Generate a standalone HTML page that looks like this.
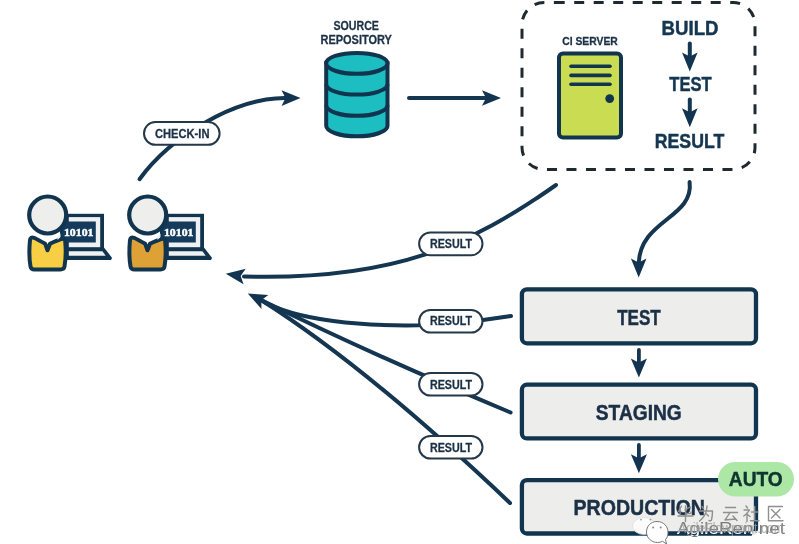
<!DOCTYPE html>
<html><head><meta charset="utf-8">
<style>
html,body{margin:0;padding:0;background:#fff;width:799px;height:544px;overflow:hidden}
svg{display:block;will-change:transform;filter:blur(0.3px)}
text{font-family:"Liberation Sans",sans-serif;font-weight:bold}
</style></head>
<body>
<svg width="799" height="544" viewBox="0 0 799 544">
<defs>
  <path id="ah" d="M0,0 L-19,-7.8 L-15,0 L-19,7.8 Z" fill="#123450"/>
</defs>

<!-- SOURCE REPOSITORY -->
<text x="356.2" y="30" font-size="13" fill="#1b3046" stroke="#1b3046" stroke-width="0.3" text-anchor="middle" textLength="45.5" lengthAdjust="spacingAndGlyphs">SOURCE</text>
<text x="356.2" y="44.3" font-size="13" fill="#1b3046" stroke="#1b3046" stroke-width="0.3" text-anchor="middle" textLength="71.5" lengthAdjust="spacingAndGlyphs">REPOSITORY</text>

<!-- Database -->
<g stroke="#12354f" stroke-width="4" fill="#1cbec2">
  <path d="M326.2,63.35 L326.2,125.85 A30.65,10.45 0 0 0 387.5,125.85 L387.5,63.35 Z"/>
  <ellipse cx="356.85" cy="63.35" rx="30.65" ry="10.45"/>
  <path d="M326.2,84.15 A30.65,10.45 0 0 0 387.5,84.15" fill="none"/>
  <path d="M326.2,105.35 A30.65,10.45 0 0 0 387.5,105.35" fill="none"/>
</g>

<!-- arrow repo -> CI -->
<line x1="409" y1="98" x2="488" y2="98" stroke="#143651" stroke-width="4" stroke-linecap="round"/>
<use href="#ah" transform="translate(501,98)"/>

<!-- CHECK-IN arc -->
<path d="M139.5,179.2 C170.8,136.2 235,98 285,98.1" fill="none" stroke="#143651" stroke-width="4" stroke-linecap="round"/>
<use href="#ah" transform="translate(300.5,98.1)"/>
<rect x="144" y="122" width="75.6" height="22.8" rx="11.4" fill="#fff" stroke="#24384a" stroke-width="2"/>
<text x="182.2" y="138" font-size="13" fill="#1b3046" stroke="#1b3046" stroke-width="0.3" text-anchor="middle" textLength="54.5" lengthAdjust="spacingAndGlyphs">CHECK-IN</text>

<!-- Dashed CI box -->
<path d="M554.7,2.5 H733 A22,22 0 0 1 755,24.5 V147.5 A22,22 0 0 1 733,169.5 H544 A22,22 0 0 1 522,147.5 V24.5 A22,22 0 0 1 544,2.5 Z" fill="none" stroke="#1f2a30" stroke-width="3" stroke-dasharray="10 9.5"/>

<text x="590" y="44.5" font-size="11.6" fill="#1b3046" stroke="#1b3046" stroke-width="0.3" text-anchor="middle" textLength="55.5" lengthAdjust="spacingAndGlyphs">CI SERVER</text>
<!-- server -->
<rect x="559" y="53.5" width="62" height="84" rx="4" fill="#cadd52" stroke="#12354f" stroke-width="4"/>
<g stroke="#12354f" stroke-width="3.6" stroke-linecap="round">
  <line x1="571" y1="66.3" x2="610" y2="66.3"/>
  <line x1="571" y1="75.4" x2="610" y2="75.4"/>
  <line x1="571" y1="84.3" x2="610" y2="84.3"/>
</g>
<circle cx="609.7" cy="98.6" r="4.4" fill="#12354f"/>

<text x="690" y="35.2" font-size="19.5" fill="#143651" stroke="#143651" stroke-width="0.45" text-anchor="middle" textLength="57" lengthAdjust="spacingAndGlyphs">BUILD</text>
<text x="690.5" y="91.1" font-size="19.5" fill="#143651" stroke="#143651" stroke-width="0.45" text-anchor="middle" textLength="42.5" lengthAdjust="spacingAndGlyphs">TEST</text>
<text x="689.5" y="147.5" font-size="19.5" fill="#143651" stroke="#143651" stroke-width="0.45" text-anchor="middle" textLength="69.5" lengthAdjust="spacingAndGlyphs">RESULT</text>
<line x1="689.8" y1="43.5" x2="689.8" y2="58" stroke="#143651" stroke-width="4" stroke-linecap="round"/>
<use href="#ah" transform="translate(689.8,71.4) rotate(90)"/>
<line x1="689.8" y1="99.5" x2="689.8" y2="114" stroke="#143651" stroke-width="4" stroke-linecap="round"/>
<use href="#ah" transform="translate(689.8,127.2) rotate(90)"/>

<!-- people -->
<g transform="translate(0,0)">
  <rect x="60" y="213.8" width="44" height="37.2" fill="#12354f"/>
  <rect x="68.8" y="217.1" width="31.4" height="30.3" fill="#eef0f2"/>
  <rect x="62" y="221.5" width="33.8" height="21" fill="#143a5c"/>
  <path d="M60,247.4 L104,247.4 L111.6,257.3 Q112.5,260.1 109.5,260.1 L60,260.1 Z" fill="#12354f"/>
  <path d="M68.8,251.3 L102.4,251.3 L105.7,255.8 L68.8,255.8 Z" fill="#eef0f2"/>
  <path d="M30,240 Q30.5,236.5 34,237.8 C38,239.8 42.5,242.3 45.2,243.8 L47.5,250.3 L50,243.8 C53,242 58,240.3 61.5,239 Q65.3,237.8 65.2,241.5 Q66.5,255 64.5,266.5 Q64,269.5 60.5,269.5 L34.5,269.5 Q31,269.5 30.5,266.5 Q28.5,255 30,240 Z" fill="#f8cf44" stroke="#12354f" stroke-width="4" stroke-linejoin="round"/>
  <circle cx="47.7" cy="215" r="18.5" fill="#eeefed" stroke="#12354f" stroke-width="4.2"/>
  <path d="M57.5,236.5 L60.5,233.5 L60.5,237 L57.5,240 Z" fill="#eef0f2"/>
  <text x="78.7" y="236.4" font-size="10.3" fill="#fff" stroke="#fff" stroke-width="0.45" text-anchor="middle" style="font-family:'Liberation Serif',serif" textLength="29.6" lengthAdjust="spacingAndGlyphs">10101</text>
</g>
<g transform="translate(100,0)">
  <rect x="60" y="213.8" width="44" height="37.2" fill="#12354f"/>
  <rect x="68.8" y="217.1" width="31.4" height="30.3" fill="#eef0f2"/>
  <rect x="62" y="221.5" width="33.8" height="21" fill="#143a5c"/>
  <path d="M60,247.4 L104,247.4 L111.6,257.3 Q112.5,260.1 109.5,260.1 L60,260.1 Z" fill="#12354f"/>
  <path d="M68.8,251.3 L102.4,251.3 L105.7,255.8 L68.8,255.8 Z" fill="#eef0f2"/>
  <path d="M30,240 Q30.5,236.5 34,237.8 C38,239.8 42.5,242.3 45.2,243.8 L47.5,250.3 L50,243.8 C53,242 58,240.3 61.5,239 Q65.3,237.8 65.2,241.5 Q66.5,255 64.5,266.5 Q64,269.5 60.5,269.5 L34.5,269.5 Q31,269.5 30.5,266.5 Q28.5,255 30,240 Z" fill="#dea136" stroke="#12354f" stroke-width="4" stroke-linejoin="round"/>
  <circle cx="47.7" cy="215" r="18.5" fill="#eeefed" stroke="#12354f" stroke-width="4.2"/>
  <path d="M57.5,236.5 L60.5,233.5 L60.5,237 L57.5,240 Z" fill="#eef0f2"/>
  <text x="78.7" y="236.4" font-size="10.3" fill="#fff" stroke="#fff" stroke-width="0.45" text-anchor="middle" style="font-family:'Liberation Serif',serif" textLength="29.6" lengthAdjust="spacingAndGlyphs">10101</text>
</g>
<!-- CI -> people result curve -->
<path d="M556,185 C471.4,244.5 394.1,280.8 244,276.5" fill="none" stroke="#143651" stroke-width="4" stroke-linecap="round"/>
<use href="#ah" transform="translate(225.8,273.8) rotate(188)"/>
<rect x="419.1" y="232.5" width="63.4" height="22.7" rx="11.35" fill="#fff" stroke="#24384a" stroke-width="2"/>
<text x="451" y="248.2" font-size="12.2" fill="#1b3046" stroke="#1b3046" stroke-width="0.3" text-anchor="middle" textLength="42" lengthAdjust="spacingAndGlyphs">RESULT</text>

<!-- CI -> TEST curve -->
<path d="M689.6,182 C694.1,218 640.4,219.6 638.7,263" fill="none" stroke="#143651" stroke-width="4" stroke-linecap="round"/>
<use href="#ah" transform="translate(638.7,277.5) rotate(90)"/>

<!-- result lines -->
<g fill="none" stroke="#143651" stroke-width="4" stroke-linecap="round">
  <path d="M511,316 L483,320 L418,325.3 C366.4,326.1 295.8,321.5 261,300"/>
  <path d="M510.6,412.5 C422.7,375.7 332.5,335.2 261,300"/>
  <path d="M510,503 C425.9,423.1 336.7,347.7 261,300"/>
</g>
<use href="#ah" transform="translate(247.8,293.6) rotate(206)"/>

<!-- stage boxes -->
<g fill="#edeeec" stroke="#12354f" stroke-width="4.3">
  <rect x="521.9" y="289.3" width="234.1" height="54" rx="5"/>
  <rect x="521.9" y="384.7" width="234.1" height="53.7" rx="5"/>
  <rect x="521.9" y="480.1" width="234.1" height="53.4" rx="5"/>
</g>
<text x="638.9" y="324.5" font-size="22" fill="#1b3046" stroke="#1b3046" stroke-width="0.5" text-anchor="middle" textLength="43.5" lengthAdjust="spacingAndGlyphs">TEST</text>
<text x="638.8" y="420.3" font-size="22" fill="#1b3046" stroke="#1b3046" stroke-width="0.5" text-anchor="middle" textLength="86" lengthAdjust="spacingAndGlyphs">STAGING</text>
<text x="639.25" y="515.1" font-size="22" fill="#1b3046" stroke="#1b3046" stroke-width="0.5" text-anchor="middle" textLength="131.5" lengthAdjust="spacingAndGlyphs">PRODUCTION</text>

<!-- arrows between boxes -->
<line x1="638.9" y1="350" x2="638.9" y2="362" stroke="#143651" stroke-width="3.8" stroke-linecap="round"/>
<use href="#ah" transform="translate(638.9,377.6) rotate(90) scale(1,1.03)"/>
<line x1="638.9" y1="445" x2="638.9" y2="458" stroke="#143651" stroke-width="3.8" stroke-linecap="round"/>
<use href="#ah" transform="translate(638.9,473.2) rotate(90) scale(1,1.03)"/>

<!-- result pills -->
<g fill="#fff" stroke="#24384a" stroke-width="2">
  <rect x="419.1" y="309.9" width="63.4" height="22.7" rx="11.35"/>
  <rect x="419.1" y="372.9" width="63.4" height="22.7" rx="11.35"/>
  <rect x="419.1" y="435.9" width="63.4" height="22.7" rx="11.35"/>
</g>
<text x="451" y="325.3" font-size="12.2" fill="#1b3046" stroke="#1b3046" stroke-width="0.3" text-anchor="middle" textLength="42" lengthAdjust="spacingAndGlyphs">RESULT</text>
<text x="451" y="388.8" font-size="12.2" fill="#1b3046" stroke="#1b3046" stroke-width="0.3" text-anchor="middle" textLength="42" lengthAdjust="spacingAndGlyphs">RESULT</text>
<text x="451" y="451.8" font-size="12.2" fill="#1b3046" stroke="#1b3046" stroke-width="0.3" text-anchor="middle" textLength="42" lengthAdjust="spacingAndGlyphs">RESULT</text>

<!-- AUTO badge -->
<rect x="718" y="462" width="76" height="34.5" rx="17.25" fill="#ade7a6"/>
<text x="755.8" y="486.4" font-size="21" fill="#10342f" stroke="#10342f" stroke-width="0.5" text-anchor="middle" textLength="54" lengthAdjust="spacingAndGlyphs">AUTO</text>

<!-- watermark -->
<g fill="none" stroke="#8f8f8f" stroke-width="1.4" stroke-linecap="round" stroke-linejoin="round">
  <path transform="translate(677.5,505.5)" d="M4,0.5 L1,6 M2.6,3.5 V8.5 M12.5,1.5 L7.5,4.5 M8,0.5 V6.5 Q8,8 9.5,8 H13.5 V6.5 M0.5,10.5 H15.5 M8,8.5 V16"/>
  <path transform="translate(698.5,505.5)" d="M3.5,1 L5,3 M1,5.5 H14 Q14,10 13,14.5 Q12.5,15.8 10.5,15 M8.5,0.5 Q8.2,10 1,15.5 M8,8.5 L10,10.5"/>
  <path transform="translate(722.5,505.5)" d="M3,2 H13 M1,7 H15 M7.5,7 Q5,11 2.5,14.5 L13,13.5 M10.5,10.5 L14.5,15"/>
  <path transform="translate(743,505.5)" d="M3,0.5 L4.5,2.5 M1,4.5 H6.5 Q4.5,8 0.8,10.5 M4,7.5 V16 M4.5,9 L7,11 M8.5,6.5 H15 M11.7,1 V15.2 M7.5,15.2 H16"/>
  <path transform="translate(767,505.5)" d="M15.5,1 H1.5 V15.2 H16 M4.5,4 L13,12.5 M13,4 L4.5,12.5"/>
</g>
<ellipse cx="644" cy="526" rx="11.5" ry="8.5" fill="#fbfbfb" stroke="#dcdcdc" stroke-width="0.8"/>
<circle cx="641" cy="519.6" r="0.9" fill="#9a9a9a"/><circle cx="650.5" cy="519.6" r="0.9" fill="#9a9a9a"/>
<path d="M657,521.5 C650.5,521.5 646.5,526.5 646.5,532 C646.5,538 651.5,542.5 657.5,542.5 C659.5,542.5 661,542 662.5,541.3 L666.5,544 L665.5,539.5 C667.5,537.5 668,535 668,532 C668,526.5 663.5,521.5 657,521.5 Z" fill="#ffffff" stroke="#6a6a6a" stroke-width="0.9"/>
<circle cx="653.2" cy="527.6" r="1" fill="#8a8a8a"/><circle cx="660.7" cy="527.6" r="1" fill="#8a8a8a"/>
<defs><clipPath id="lineband"><rect x="674" y="531.5" width="84" height="4.5"/></clipPath></defs>
<rect x="752" y="531" width="10" height="8" fill="#ffffff" fill-opacity="0.85"/>
<text x="677" y="534" font-size="16" fill="#7a7a7a" textLength="108" lengthAdjust="spacingAndGlyphs" style="font-weight:normal">AgileRen.net</text>
<text x="677" y="534" font-size="16" fill="#ffffff" clip-path="url(#lineband)" textLength="108" lengthAdjust="spacingAndGlyphs" style="font-weight:normal">AgileRen.net</text>
<text x="678" y="533" font-size="14" fill="#a0a0a0" fill-opacity="0.8" textLength="106" lengthAdjust="spacingAndGlyphs" style="font-weight:normal">AgileFlowpoint.com</text>
</svg>
</body></html>
